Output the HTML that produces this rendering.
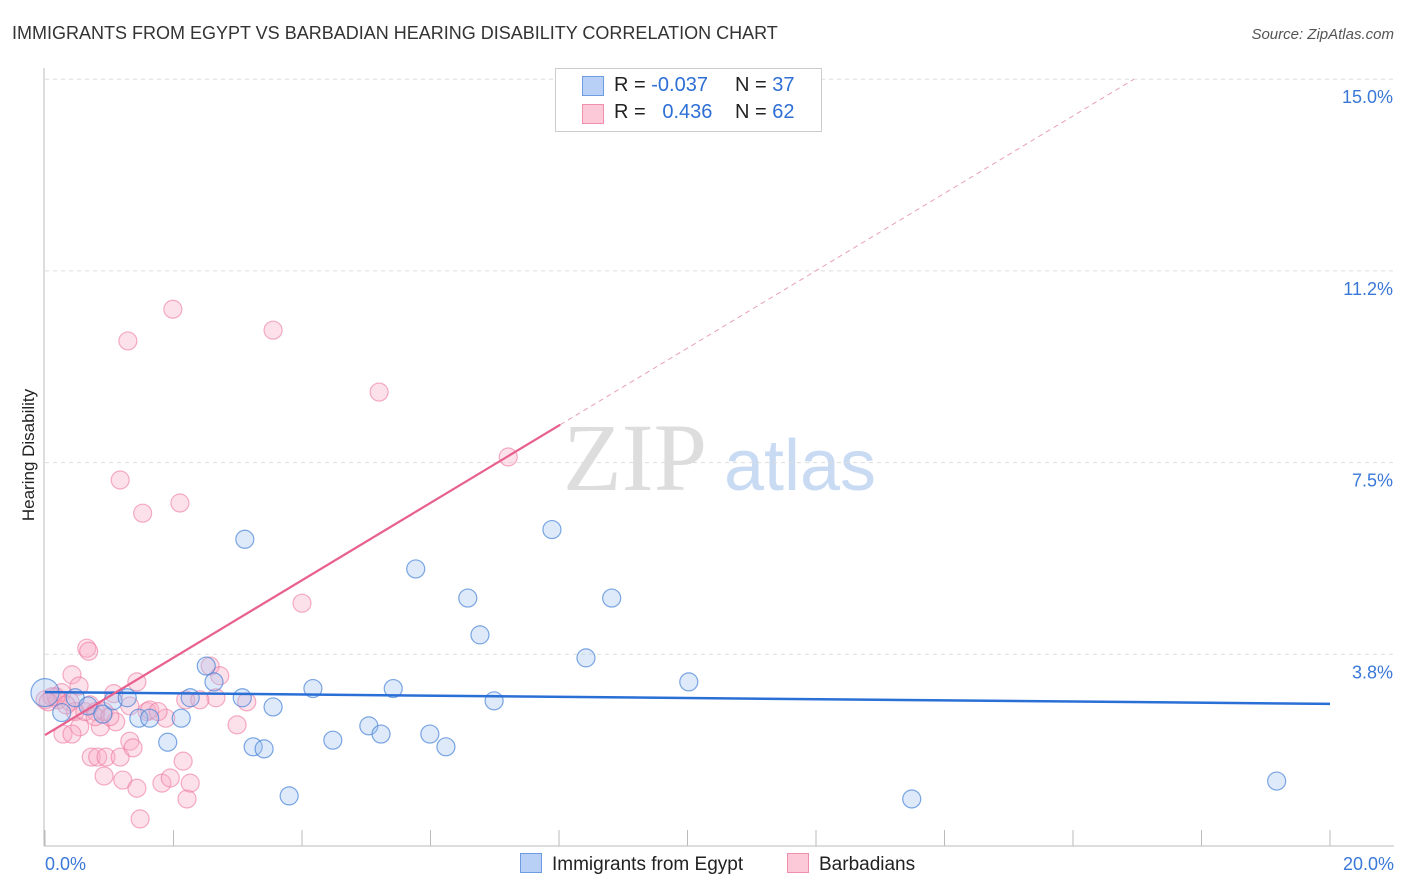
<!DOCTYPE html>
<html><head><meta charset="utf-8">
<style>
body{margin:0;background:#fff;font-family:"Liberation Sans",sans-serif;}
#wrap{position:relative;width:1406px;height:892px;overflow:hidden;}
</style></head>
<body>
<div id="wrap">
<svg id="svg" width="1406" height="892" xmlns="http://www.w3.org/2000/svg">
<text x="12" y="39" font-size="18" fill="#333">IMMIGRANTS FROM EGYPT VS BARBADIAN HEARING DISABILITY CORRELATION CHART</text>
<text x="1394" y="39" font-size="15" fill="#555" text-anchor="end" font-style="italic">Source: ZipAtlas.com</text>
<text x="34" y="455" font-size="17" fill="#222" text-anchor="middle" transform="rotate(-90 34 455)">Hearing Disability</text>
<g><text x="635" y="490" font-size="96" fill="#ddd" text-anchor="middle" font-family="Liberation Serif,serif">ZIP</text><text x="800" y="490" font-size="72" fill="#c9daf3" text-anchor="middle">atlas</text></g>
<g id="grid"></g><g id="marks"></g>
</svg>
<div style="position:absolute;left:555px;top:68px;width:265px;height:62px;border:1px solid #ccc;background:#fff;font-size:20px;">
<div style="position:absolute;left:26px;top:7px;width:20px;height:18px;background:#b8d0f5;border:1px solid #6f9be0"></div>
<div style="position:absolute;left:58px;top:5px;color:#222">R = <span style="color:#2d6fd6">-0.037</span></div>
<div style="position:absolute;left:179px;top:5px;color:#222">N = <span style="color:#2d6fd6">37</span></div>
<div style="position:absolute;left:26px;top:35px;width:20px;height:18px;background:#fbc9d7;border:1px solid #ee8fab"></div>
<div style="position:absolute;left:58px;top:32px;color:#222">R = &nbsp;&nbsp;<span style="color:#2d6fd6">0.436</span></div>
<div style="position:absolute;left:179px;top:32px;color:#222">N = <span style="color:#2d6fd6">62</span></div>
</div>
<div style="position:absolute;left:520px;top:853px;font-size:19px;color:#222"><span style="display:inline-block;width:20px;height:18px;background:#b8d0f5;border:1px solid #6f9be0;vertical-align:-3px;margin-right:10px"></span>Immigrants from Egypt</div>
<div style="position:absolute;left:787px;top:853px;font-size:19px;color:#222"><span style="display:inline-block;width:20px;height:18px;background:#fbc9d7;border:1px solid #ee8fab;vertical-align:-3px;margin-right:10px"></span>Barbadians</div>
</div>
<script>
const yTicks=[3.75,7.5,11.25,15];
const yTickLabels=["3.8%","7.5%","11.2%","15.0%"];
const xTickVals=[0,2,4,6,8,10,12,14,16,18,20];
const blueX=[0,0.26,0.47,0.67,0.90,1.06,1.28,1.46,1.63,1.91,2.12,2.26,2.51,2.63,3.07,3.11,3.24,3.41,3.55,3.80,4.17,4.48,5.04,5.23,5.42,5.77,5.99,6.24,6.58,6.77,6.99,7.89,8.42,8.82,10.02,13.49,19.17];
const blueY=[3.00,2.61,2.90,2.74,2.58,2.84,2.90,2.50,2.50,2.03,2.50,2.90,3.52,3.21,2.90,6.00,1.94,1.90,2.72,0.98,3.08,2.07,2.35,2.19,3.08,5.42,2.19,1.94,4.85,4.13,2.84,6.19,3.68,4.85,3.21,0.92,1.27];
const pinkX=[0,0.11,0.20,0.26,0.39,0.47,0.54,0.62,0.70,0.79,0.86,0.92,0.42,0.53,0.65,0.68,0.28,0.42,0.72,0.82,0.95,0.92,1.07,1.10,1.17,1.21,1.29,1.32,1.37,1.43,1.43,1.52,1.59,1.63,1.17,1.82,1.88,1.95,1.99,2.10,2.15,2.19,2.21,2.26,2.57,2.66,2.72,2.99,3.14,3.55,4.00,5.20,7.21,1.48,0.78,1.01,1.76,0.17,0.33,0.05,1.32,2.41];
const pinkY=[2.86,2.92,2.86,3.00,2.82,2.63,2.33,2.63,2.76,2.63,2.33,2.63,3.35,3.13,3.87,3.81,2.19,2.19,1.74,1.74,1.74,1.37,2.98,2.43,1.74,1.29,9.88,2.05,1.92,3.21,1.13,6.51,2.63,2.66,7.16,1.23,2.50,1.33,10.50,6.71,1.66,2.86,0.92,1.23,3.52,2.90,3.33,2.37,2.82,10.09,4.75,8.88,7.61,0.53,2.53,2.53,2.63,2.92,2.76,2.82,2.74,2.86];
const blueLine=[3.01,2.78];
const pinkIntercept=2.17, pinkSlope=0.757;
const X=v=>45+v/20*1285, Y=v=>846-v/3.75*191.7;
const NS="http://www.w3.org/2000/svg";
function mk(t,a,p){const e=document.createElementNS(NS,t);for(const k in a)e.setAttribute(k,a[k]);p.appendChild(e);return e;}
const g=document.getElementById('grid'), m=document.getElementById('marks');
yTicks.forEach((v,i)=>{
 const l=mk('line',{x1:45,x2:1394,y1:Y(v),y2:Y(v),stroke:'#ddd','stroke-dasharray':'4,4'},g);
 
 
 const t=mk('text',{x:1393,y:Y(v)+24,'font-size':18,fill:'#3a78d8','text-anchor':'end'},g);t.textContent=yTickLabels[i];
 
 
});
const ax=mk('line',{x1:44,x2:44,y1:68,y2:846,stroke:'#bbb'},g);


const bx=mk('line',{x1:44,x2:1394,y1:846,y2:846,stroke:'#bbb'},g);


xTickVals.forEach(v=>{const t=mk('line',{x1:X(v),x2:X(v),y1:830,y2:846,stroke:'#bbb'},g);
 
 });
[[0,"0.0%",'start',45],[20,"20.0%",'end',1394]].forEach(a=>{const t=mk('text',{x:a[3],y:870,'font-size':18,fill:'#3a78d8','text-anchor':a[2]},g);t.textContent=a[1];
 
 });
pinkX.forEach((x,i)=>{const c=mk('circle',{cx:X(x),cy:Y(pinkY[i]),r:9,fill:'rgba(248,170,195,0.35)',stroke:'rgba(236,120,160,0.6)','stroke-width':1.2},m);
 
 });
blueX.forEach((x,i)=>{const c=mk('circle',{cx:X(x),cy:Y(blueY[i]),r:i==0?14:9,fill:'rgba(160,195,240,0.35)',stroke:'rgba(70,130,215,0.7)','stroke-width':1.2},m);
 
 });
const bl=mk('line',{x1:X(0),y1:Y(blueLine[0]),x2:X(20),y2:Y(blueLine[1]),stroke:'#2a6fd6','stroke-width':2.5},m);


const xe=8.02, xd=(15-pinkIntercept)/pinkSlope;
const pl=mk('line',{x1:X(0),y1:Y(pinkIntercept),x2:X(xe),y2:Y(pinkIntercept+pinkSlope*xe),stroke:'#e8608e','stroke-width':2.2},m);


const pd=mk('line',{x1:X(xe),y1:Y(pinkIntercept+pinkSlope*xe),x2:X(xd),y2:Y(15),stroke:'#e8a0b8','stroke-width':1,'stroke-dasharray':'5,4'},m);


</script>
</body></html>
